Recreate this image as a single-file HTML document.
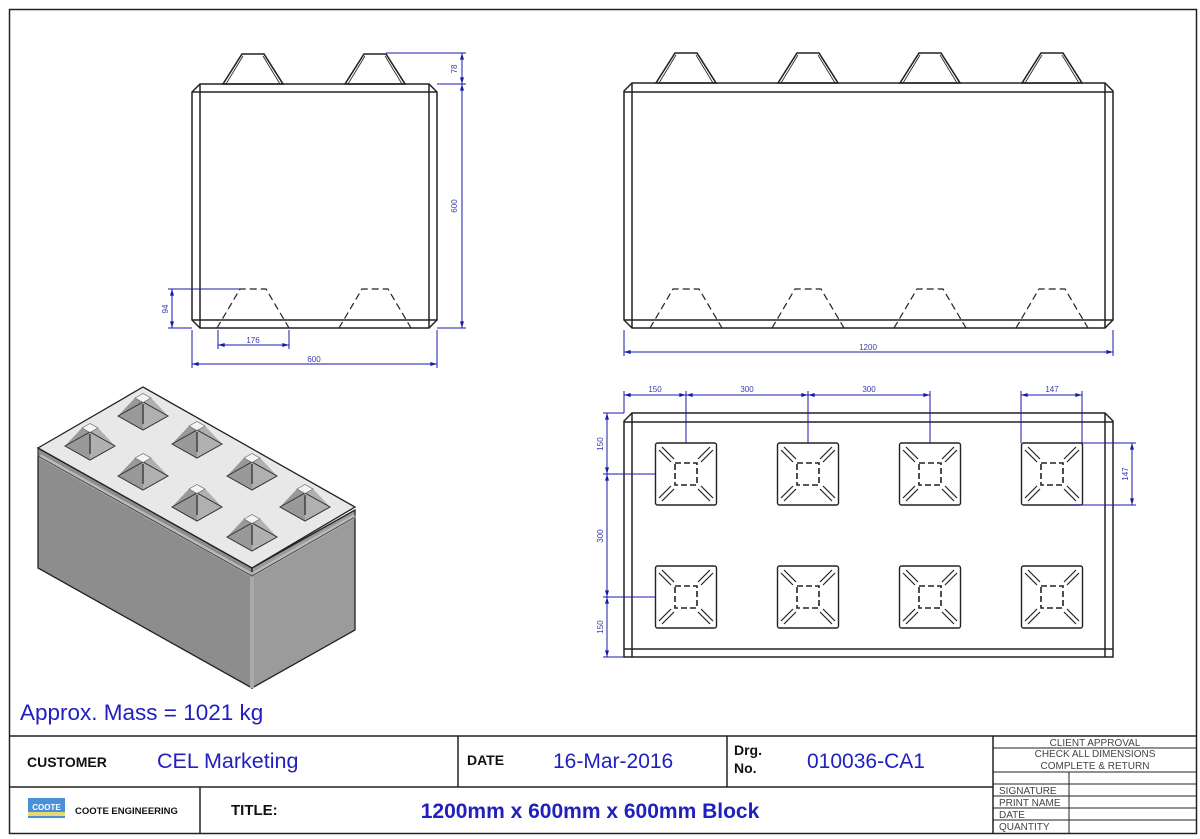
<!DOCTYPE html>
<html><head><meta charset="utf-8"><style>
html,body{margin:0;padding:0;background:#fff}
svg{display:block}
text{font-family:"Liberation Sans",Arial,sans-serif}
</style></head><body>
<svg width="1200" height="839" viewBox="0 0 1200 839" xmlns="http://www.w3.org/2000/svg">
<defs>
<marker id="a" viewBox="0 0 10 6" refX="10" refY="3" markerWidth="7" markerHeight="4" orient="auto-start-reverse" markerUnits="userSpaceOnUse"><path d="M0,0L10,3L0,6z" fill="#1a1aa8"/></marker>
<g id="st"><polygon points="-30,0 -11,-30 11,-30 30,0" fill="none" stroke="#222" stroke-width="1.6"/><line x1="-27" y1="0" x2="-10" y2="-28" stroke="#222" stroke-width="0.8"/><line x1="27" y1="0" x2="10" y2="-28" stroke="#222" stroke-width="0.8"/></g>
<g id="hs"><polyline points="-36,0 -13,-39 13,-39 36,0" fill="none" stroke="#222" stroke-width="1.2" stroke-dasharray="7,4"/></g>
<g id="pd" stroke="#222" fill="none">
<rect x="-30.5" y="-31" width="61" height="62" rx="2" stroke-width="1.4"/>
<rect x="-11" y="-11" width="22" height="22" stroke-width="1.6" stroke-dasharray="6,3"/>
<g stroke-width="1.2">
<line x1="-27" y1="-24" x2="-15" y2="-12"/><line x1="-24" y1="-27" x2="-12" y2="-15"/>
<line x1="27" y1="-24" x2="15" y2="-12"/><line x1="24" y1="-27" x2="12" y2="-15"/>
<line x1="-27" y1="24" x2="-15" y2="12"/><line x1="-24" y1="27" x2="-12" y2="15"/>
<line x1="27" y1="24" x2="15" y2="12"/><line x1="24" y1="27" x2="12" y2="15"/>
</g></g>
<g id="is">
<polygon points="-25,0 -8,-18 0,-22.5 8,-18 25,0 0,14" fill="#a8a8a8"/>
<polygon points="-25,0 0,14 0,-13.5 -8,-18" fill="#999"/>
<polygon points="25,0 0,14 0,-13.5 8,-18" fill="#b0b0b0"/>
<polygon points="-25,0 0,-14 25,0 0,14" fill="none" stroke="#333" stroke-width="1"/>
<polygon points="-8,-18 0,-22.5 8,-18 0,-13.5" fill="#f4f4f4" stroke="#666" stroke-width="0.7"/>
<line x1="0" y1="-12" x2="0" y2="8" stroke="#333" stroke-width="1.3"/>
</g>
</defs>

<!-- page border -->
<rect x="9.5" y="9.5" width="1187" height="824" fill="none" stroke="#222" stroke-width="1.5"/>

<!-- LEFT ELEVATION -->
<g stroke="#222" fill="none" stroke-width="1.5">
<polygon points="200,84 429,84 437,92 437,320 429,328 200,328 192,320 192,92"/>
<line x1="192" y1="92" x2="437" y2="92"/><line x1="192" y1="320" x2="437" y2="320"/>
<line x1="200" y1="84" x2="200" y2="328"/><line x1="429" y1="84" x2="429" y2="328"/>
</g>
<use href="#st" x="253" y="84"/><use href="#st" x="375" y="84"/>
<use href="#hs" x="253" y="328"/><use href="#hs" x="375" y="328"/>
<g stroke="#1a1aa8" stroke-width="1" fill="none">
<line x1="386" y1="53" x2="466" y2="53"/><line x1="437" y1="84" x2="466" y2="84"/><line x1="437" y1="328" x2="466" y2="328"/>
<line x1="462" y1="53" x2="462" y2="84" marker-start="url(#a)" marker-end="url(#a)"/>
<line x1="462" y1="84" x2="462" y2="328" marker-start="url(#a)" marker-end="url(#a)"/>
<line x1="168" y1="289" x2="240" y2="289"/><line x1="168" y1="328" x2="192" y2="328"/>
<line x1="172" y1="289" x2="172" y2="328" marker-start="url(#a)" marker-end="url(#a)"/>
<line x1="218" y1="330" x2="218" y2="349"/><line x1="289" y1="330" x2="289" y2="349"/>
<line x1="218" y1="345" x2="289" y2="345" marker-start="url(#a)" marker-end="url(#a)"/>
<line x1="192" y1="330" x2="192" y2="368"/><line x1="437" y1="330" x2="437" y2="368"/>
<line x1="192" y1="364" x2="437" y2="364" marker-start="url(#a)" marker-end="url(#a)"/>
</g>
<g fill="#3a3ab0" font-size="8">
<text x="457" y="69" transform="rotate(-90 457 69)" text-anchor="middle">78</text>
<text x="457" y="206" transform="rotate(-90 457 206)" text-anchor="middle">600</text>
<text x="168" y="309" transform="rotate(-90 168 309)" text-anchor="middle">94</text>
<text x="253" y="343" text-anchor="middle">176</text>
<text x="314" y="362" text-anchor="middle">600</text>
</g>

<!-- RIGHT ELEVATION -->
<g stroke="#222" fill="none" stroke-width="1.5">
<polygon points="632,83 1105,83 1113,91 1113,320 1105,328 632,328 624,320 624,91"/>
<line x1="624" y1="92" x2="1113" y2="92"/><line x1="624" y1="320" x2="1113" y2="320"/>
<line x1="632" y1="83" x2="632" y2="328"/><line x1="1105" y1="83" x2="1105" y2="328"/>
</g>
<use href="#st" x="686" y="83"/><use href="#st" x="808" y="83"/><use href="#st" x="930" y="83"/><use href="#st" x="1052" y="83"/>
<use href="#hs" x="686" y="328"/><use href="#hs" x="808" y="328"/><use href="#hs" x="930" y="328"/><use href="#hs" x="1052" y="328"/>
<g stroke="#1a1aa8" stroke-width="1" fill="none">
<line x1="624" y1="330" x2="624" y2="356"/><line x1="1113" y1="330" x2="1113" y2="356"/>
<line x1="624" y1="352" x2="1113" y2="352" marker-start="url(#a)" marker-end="url(#a)"/>
</g>
<text x="868" y="350" fill="#3a3ab0" font-size="8" text-anchor="middle">1200</text>

<!-- PLAN VIEW -->
<g stroke="#222" fill="none" stroke-width="1.5">
<polygon points="632,413 1105,413 1113,421 1113,657 624,657 624,421"/>
<line x1="624" y1="422" x2="1113" y2="422"/><line x1="632" y1="413" x2="632" y2="657"/>
<line x1="624" y1="649" x2="1113" y2="649"/><line x1="1105" y1="413" x2="1105" y2="657"/>
</g>
<use href="#pd" x="686" y="474"/><use href="#pd" x="808" y="474"/><use href="#pd" x="930" y="474"/><use href="#pd" x="1052" y="474"/>
<use href="#pd" x="686" y="597"/><use href="#pd" x="808" y="597"/><use href="#pd" x="930" y="597"/><use href="#pd" x="1052" y="597"/>
<g stroke="#1a1aa8" stroke-width="1" fill="none">
<line x1="624" y1="391" x2="624" y2="413"/>
<line x1="686" y1="391" x2="686" y2="443"/><line x1="808" y1="391" x2="808" y2="443"/><line x1="930" y1="391" x2="930" y2="443"/>
<line x1="624" y1="395" x2="686" y2="395" marker-start="url(#a)" marker-end="url(#a)"/>
<line x1="686" y1="395" x2="808" y2="395" marker-start="url(#a)" marker-end="url(#a)"/>
<line x1="808" y1="395" x2="930" y2="395" marker-start="url(#a)" marker-end="url(#a)"/>
<line x1="1021" y1="391" x2="1021" y2="443"/><line x1="1082" y1="391" x2="1082" y2="443"/>
<line x1="1021" y1="395" x2="1082" y2="395" marker-start="url(#a)" marker-end="url(#a)"/>
<line x1="603" y1="413" x2="624" y2="413"/><line x1="603" y1="474" x2="655" y2="474"/><line x1="603" y1="597" x2="655" y2="597"/><line x1="603" y1="657" x2="624" y2="657"/>
<line x1="607" y1="413" x2="607" y2="474" marker-start="url(#a)" marker-end="url(#a)"/>
<line x1="607" y1="474" x2="607" y2="597" marker-start="url(#a)" marker-end="url(#a)"/>
<line x1="607" y1="597" x2="607" y2="657" marker-start="url(#a)" marker-end="url(#a)"/>
<line x1="1082" y1="443" x2="1136" y2="443"/><line x1="1070" y1="505" x2="1136" y2="505"/>
<line x1="1132" y1="443" x2="1132" y2="505" marker-start="url(#a)" marker-end="url(#a)"/>
</g>
<g fill="#3a3ab0" font-size="8" text-anchor="middle">
<text x="655" y="392">150</text><text x="747" y="392">300</text><text x="869" y="392">300</text><text x="1052" y="392">147</text>
<text x="603" y="444" transform="rotate(-90 603 444)">150</text>
<text x="603" y="536" transform="rotate(-90 603 536)">300</text>
<text x="603" y="627" transform="rotate(-90 603 627)">150</text>
<text x="1128" y="474" transform="rotate(-90 1128 474)">147</text>
</g>

<!-- ISOMETRIC -->
<polygon points="38,448 252,568 252,688 38,568" fill="#8d8d8d" stroke="#222" stroke-width="1.3"/>
<polygon points="252,568 355,510 355,630 252,688" fill="#9b9b9b" stroke="#222" stroke-width="1.3"/>
<polygon points="38,448 143,387 355,507 252,568" fill="#e8e8e8" stroke="#222" stroke-width="1.3"/>
<polyline points="40,456 252,575 355,516" fill="none" stroke="#bbb" stroke-width="4"/>
<line x1="252" y1="572" x2="252" y2="688" stroke="#aaa" stroke-width="4"/>
<polyline points="38,448 38,456 252,576 355,517" fill="none" stroke="#444" stroke-width="1"/>
<use href="#is" x="143" y="416"/><use href="#is" x="90" y="446"/><use href="#is" x="197" y="444"/><use href="#is" x="143" y="476"/>
<use href="#is" x="252" y="476"/><use href="#is" x="197" y="507"/><use href="#is" x="305" y="507"/><use href="#is" x="252" y="537"/>

<text x="20" y="720" fill="#2020c0" font-size="22.5">Approx. Mass = 1021 kg</text>

<!-- TITLE BLOCK -->
<g stroke="#222" stroke-width="1.5" fill="none">
<line x1="9" y1="736" x2="1197" y2="736"/>
<line x1="9" y1="787" x2="993" y2="787"/>
<line x1="200" y1="787" x2="200" y2="834"/>
<line x1="458" y1="736" x2="458" y2="787"/>
<line x1="727" y1="736" x2="727" y2="787"/>
<line x1="993" y1="736" x2="993" y2="834"/>
</g>
<g stroke="#222" stroke-width="1" fill="none">
<line x1="993" y1="748" x2="1197" y2="748"/>
<line x1="993" y1="772" x2="1197" y2="772"/>
<line x1="993" y1="784" x2="1197" y2="784"/>
<line x1="993" y1="796" x2="1197" y2="796"/>
<line x1="993" y1="808" x2="1197" y2="808"/>
<line x1="993" y1="820" x2="1197" y2="820"/>
<line x1="1069" y1="772" x2="1069" y2="834"/>
</g>
<text x="27" y="767" font-size="14" font-weight="bold" fill="#111">CUSTOMER</text>
<text x="157" y="768" font-size="21.5" fill="#2020c0">CEL Marketing</text>
<text x="467" y="765" font-size="14" font-weight="bold" fill="#111">DATE</text>
<text x="553" y="768" font-size="21" fill="#2020c0">16-Mar-2016</text>
<text x="734" y="755" font-size="14" font-weight="bold" fill="#111">Drg.</text>
<text x="734" y="773" font-size="14" font-weight="bold" fill="#111">No.</text>
<text x="807" y="768" font-size="21" fill="#2020c0">010036-CA1</text>
<g font-size="10" fill="#444" text-anchor="middle">
<text x="1095" y="746">CLIENT APPROVAL</text>
<text x="1095" y="757">CHECK ALL DIMENSIONS</text>
<text x="1095" y="769">COMPLETE &amp; RETURN</text>
</g>
<g font-size="10" fill="#444">
<text x="999" y="794">SIGNATURE</text><text x="999" y="806">PRINT NAME</text><text x="999" y="818">DATE</text><text x="999" y="830">QUANTITY</text>
</g>
<rect x="28" y="798" width="37" height="20" fill="#4a90d9"/>
<rect x="28" y="812" width="37" height="4" fill="#e8d870"/>
<text x="46.5" y="810" font-size="8" font-weight="bold" fill="#fff" text-anchor="middle">COOTE</text>
<text x="75" y="814" font-size="9.5" font-weight="bold" fill="#111">COOTE ENGINEERING</text>
<text x="231" y="815" font-size="15" font-weight="bold" fill="#111">TITLE:</text>
<text x="590" y="818" font-size="21" font-weight="bold" fill="#2020c0" text-anchor="middle">1200mm x 600mm x 600mm Block</text>
</svg>
</body></html>
